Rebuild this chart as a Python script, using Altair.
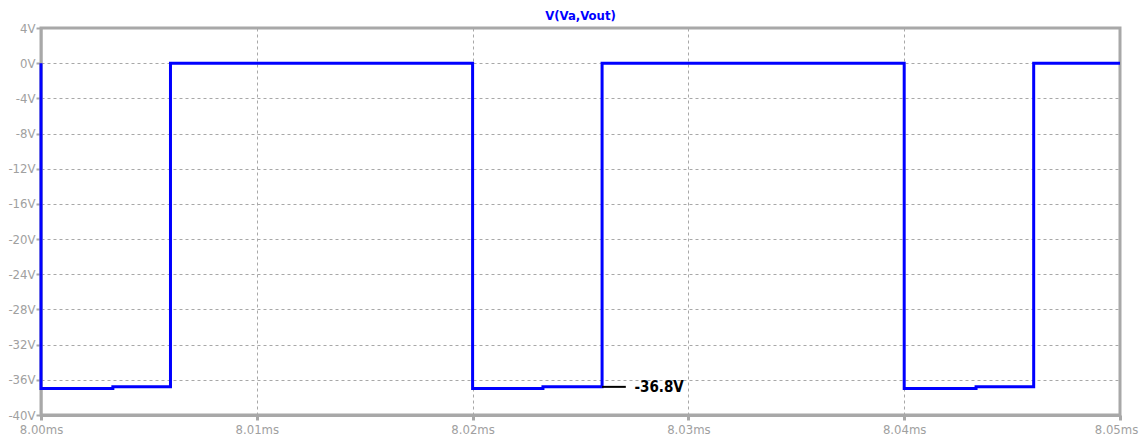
import altair as alt
import pandas as pd

# step waveform (time in ms, voltage in V)
times = [8.000, 8.000, 8.00333, 8.006, 8.020, 8.02326, 8.026, 8.040, 8.04333, 8.046, 8.050]
volts = [0.0, -37.0, -36.8, 0.0, -37.0, -36.8, 0.0, -37.0, -36.8, 0.0, 0.0]

y_ticks = [-40, -36, -32, -28, -24, -20, -16, -12, -8, -4, 0, 4]
x_ticks = [8.00, 8.01, 8.02, 8.03, 8.04, 8.05]

ann_t = [8.026, 8.0271]
ann_v = [-36.8, -36.8]
ann_text_t = [8.0275]
ann_text_v = [-36.8]
ann_label = ["-36.8V"]

GREY = "#a8a8a8"
FONT = "Liberation Sans Narrow, DejaVu Sans Condensed, Arial Narrow, sans-serif"

df = pd.DataFrame({"t": times, "v": volts, "o": list(range(len(times)))})
ann = pd.DataFrame({"t": ann_t, "v": ann_v})
ann_txt = pd.DataFrame({"t": ann_text_t, "v": ann_text_v, "label": ann_label})

xscale = alt.Scale(domain=[8.00, 8.05], nice=False, zero=False)
yscale = alt.Scale(domain=[-40, 4], nice=False, zero=False)

xaxis = alt.Axis(values=x_ticks, labelExpr="format(datum.value, '.2f') + 'ms'",
                 title=None, grid=True, gridDash=[3, 3], gridColor=GREY, gridWidth=1,
                 domainColor=GREY, domainWidth=3, tickColor=GREY, tickWidth=3, tickSize=5,
                 labelColor="#a0a0a0", labelFont=FONT, labelFontSize=13, labelPadding=3,
                 labelOffset={"condition": {"test": "datum.value >= 8.049", "value": -4}, "value": 0},
                 labelFlush=False, labelOverlap=False, labelBound=False)
yaxis = alt.Axis(values=y_ticks, labelExpr="datum.value + 'V'",
                 title=None, grid=True, gridDash=[3, 3], gridColor=GREY, gridWidth=1,
                 domainColor=GREY, domainWidth=2, tickColor=GREY, tickWidth=2, tickSize=5,
                 labelColor="#a0a0a0", labelFont=FONT, labelFontSize=13, labelPadding=1,
                 labelFlush=False, labelOverlap=False, labelBound=False)

line = alt.Chart(df).mark_line(color="#0000ff", strokeWidth=3, interpolate="step-after").encode(
    x=alt.X("t:Q", scale=xscale, axis=xaxis),
    y=alt.Y("v:Q", scale=yscale, axis=yaxis),
    order="o:Q",
)

ann_line = alt.Chart(ann).mark_line(color="black", strokeWidth=2).encode(
    x=alt.X("t:Q", scale=xscale, axis=xaxis),
    y=alt.Y("v:Q", scale=yscale, axis=yaxis),
)

ann_text = alt.Chart(ann_txt).mark_text(align="left", baseline="middle", font=FONT,
                                        fontSize=15, fontWeight="bold", color="black").encode(
    x=alt.X("t:Q", scale=xscale, axis=xaxis),
    y=alt.Y("v:Q", scale=yscale, axis=yaxis),
    text="label:N",
)

chart = (line + ann_line + ann_text).properties(
    width=1079, height=387,
    title=alt.TitleParams("V(Va,Vout)", color="#0000ff", font=FONT, fontSize=13,
                          fontWeight="bold", anchor="middle", offset=-1),
    autosize=alt.AutoSizeParams(type="none"),
    padding={"left": 33, "top": 20, "right": 20, "bottom": 20},
).configure_view(stroke=GREY, strokeWidth=3)

chart.save("out.html", embed_options={"renderer": "svg", "actions": False})
